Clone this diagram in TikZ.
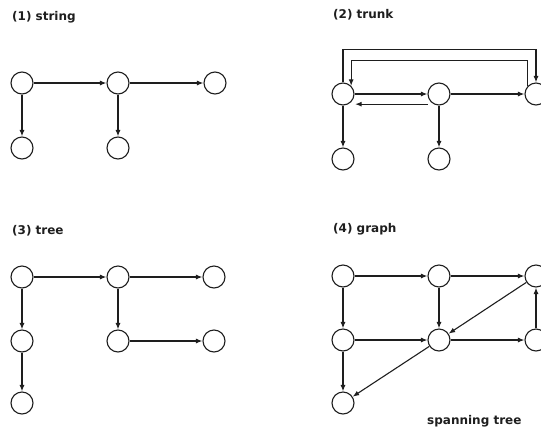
\documentclass[tikz,border=0pt]{standalone}
\usepackage{fontspec}
\setmainfont{DejaVu Sans}
\usepackage{tikz}
\usetikzlibrary{arrows.meta,positioning,calc}
\definecolor{inkgray}{RGB}{30,30,30}

\begin{document}
\begin{tikzpicture}[x=1pt, y=-1pt,
    vtx/.style={circle, draw=inkgray, line width=1.1pt, minimum size=22pt, inner sep=0pt},
    arr/.style={-{Latex[length=6.5pt,width=5pt]}, draw=inkgray, line width=1.1pt},
    ttl/.style={anchor=west, inner sep=0pt, text=inkgray, font=\bfseries\fontsize{12}{14}\selectfont}]
  \useasboundingbox (0,0) rectangle (541,432);
  \clip (0,0) rectangle (541,432);
  % (1) string
  \node[ttl] (ls) at (12,17) {(1) string};
  \node[vtx] (s1) at (22,83) {};
  \node[vtx] (s2) at (118,83) {};
  \node[vtx] (s3) at (215,83) {};
  \node[vtx] (s4) at (22,148) {};
  \node[vtx] (s5) at (118,148) {};
  \draw[arr] (s1) -- (s2);
  \draw[arr] (s2) -- (s3);
  \draw[arr] (s1) -- (s4);
  \draw[arr] (s2) -- (s5);
  % (2) trunk
  \node[ttl] (lt) at (333,15) {(2) trunk};
  \node[vtx] (t1) at (343,94) {};
  \node[vtx] (t2) at (439,94) {};
  \node[vtx] (t3) at (536,94) {};
  \node[vtx] (t4) at (343,159) {};
  \node[vtx] (t5) at (439,159) {};
  \draw[arr] (t1) -- (t2);
  \draw[arr] (t2) -- (t3);
  \draw[arr] ([shift={(-3pt,-2pt)}]t2.south west) -- ([shift={(4pt,-2pt)}]t1.south east);
  \draw[arr] (t1) -- (t4);
  \draw[arr] (t2) -- (t5);
  \draw[arr] (t1.north) -- ++(0,-33) -| (t3.north);
  \draw[arr] (t3.north west) -- ++(0,-25) -| (t1.north east);
  % (3) tree
  \node[ttl] (lr) at (12,231) {(3) tree};
  \node[vtx] (r1) at (22,277) {};
  \node[vtx] (r2) at (118,277) {};
  \node[vtx] (r3) at (214,277) {};
  \node[vtx] (r4) at (22,341) {};
  \node[vtx] (r5) at (118,341) {};
  \node[vtx] (r6) at (214,341) {};
  \node[vtx] (r7) at (22,403) {};
  \draw[arr] (r1) -- (r2);
  \draw[arr] (r2) -- (r3);
  \draw[arr] (r1) -- (r4);
  \draw[arr] (r4) -- (r7);
  \draw[arr] (r2) -- (r5);
  \draw[arr] (r5) -- (r6);
  % (4) graph
  \node[ttl] (lg) at (333,229) {(4) graph};
  \node[vtx] (g1) at (343,276) {};
  \node[vtx] (g2) at (439,276) {};
  \node[vtx] (g3) at (536,276) {};
  \node[vtx] (g4) at (343,340) {};
  \node[vtx] (g5) at (439,340) {};
  \node[vtx] (g6) at (536,340) {};
  \node[vtx] (g7) at (343,403) {};
  \draw[arr] (g1) -- (g2);
  \draw[arr] (g2) -- (g3);
  \draw[arr] (g1) -- (g4);
  \draw[arr] (g4) -- (g5);
  \draw[arr] (g5) -- (g6);
  \draw[arr] (g2) -- (g5);
  \draw[arr] (g6) -- (g3);
  \draw[arr] (g3) -- (g5);
  \draw[arr] (g5) -- (g7);
  \draw[arr] (g4) -- (g7);
  \node[ttl] (sp) at (427,421) {spanning tree};
\end{tikzpicture}
\end{document}
